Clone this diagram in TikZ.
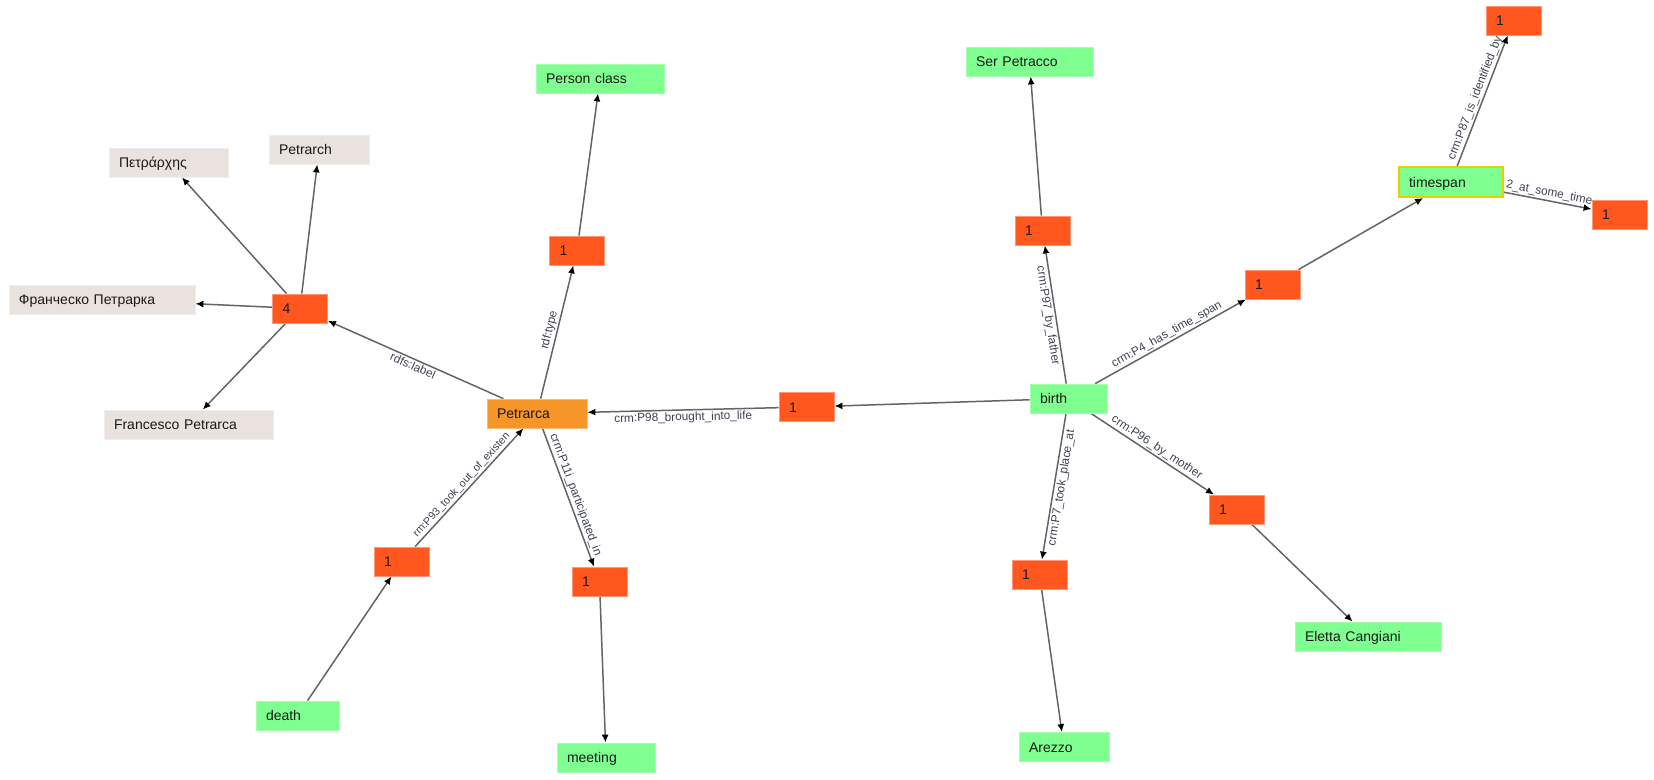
\documentclass[tikz,border=0pt]{standalone}
\usepackage{fontspec}
\setmainfont{Liberation Sans}
\usetikzlibrary{arrows.meta}
\pgfdeclarelayer{bg}
\pgfsetlayers{bg,main}
\definecolor{ored}{RGB}{255,87,30}
\definecolor{oredb}{RGB}{255,150,120}
\definecolor{grn}{RGB}{128,255,145}
\definecolor{grnb}{RGB}{165,255,175}
\definecolor{beige}{RGB}{234,226,223}
\definecolor{beigeb}{RGB}{242,236,234}
\definecolor{porange}{RGB}{247,150,40}
\definecolor{porangeb}{RGB}{250,185,120}
\definecolor{ybord}{RGB}{235,205,0}
\definecolor{edgegray}{RGB}{100,100,100}
\definecolor{lblcol}{RGB}{60,66,82}
\begin{document}
\begin{tikzpicture}[x=1pt,y=-1pt,
  box/.style={rectangle, minimum height=29pt, inner xsep=10pt, inner ysep=0pt,
    align=left, text height=10pt, text depth=0pt,
    font=\fontsize{14}{16}\selectfont, text={rgb,255:red,25;green,25;blue,25}},
  num/.style={box, fill=ored, draw=oredb, line width=0.8pt, text width=35pt},
  grnode/.style={box, fill=grn, draw=grnb, line width=0.8pt, text width=#1},
  lit/.style={box, fill=beige, draw=beigeb, line width=0.8pt, text width=#1},
  edge/.style={draw=edgegray, line width=1.5pt, -{Latex[length=8pt,width=7pt,color=black]}},
  lbl/.style={font=\fontsize{11.8}{14}\selectfont, text=lblcol, inner sep=1.5pt}
]
\useasboundingbox (0,0) rectangle (1654,779);

% left label cluster
\node[lit=99pt]  (pi)       at (168.5,162.5) {Πετράρχης};
\node[lit=80pt]  (petrarch) at (319,149.5)   {Petrarch};
\node[lit=166pt] (fr)       at (102,299.5)   {Франческо Петрарка};
\node[num]       (four)     at (300,308.5)   {4};
\node[lit=149pt] (fp)       at (188.5,424.5) {Francesco Petrarca};

% Petrarca cluster
\node[box, fill=porange, draw=porangeb, line width=0.8pt, text width=80pt] (petrarca) at (537,413.5) {Petrarca};
\node[grnode=108pt] (person) at (600,78.5) {Person class};
\node[num] (otype) at (577,250.5) {1};
\node[num] (o98)   at (806.5,407) {1};
\node[num] (o93)   at (401.5,561.5) {1};
\node[num] (o11)   at (599.5,581.5) {1};
\node[grnode=63pt] (death)   at (297.5,715.5) {death};
\node[grnode=78pt] (meeting) at (606,757.5)   {meeting};

% birth cluster
\node[grnode=57pt]  (birth) at (1068.5,398.5) {birth};
\node[num] (o97) at (1042.5,230.5) {1};
\node[grnode=107pt] (serp) at (1029.5,61.5) {Ser Petracco};
\node[num] (o4) at (1272.5,284.5) {1};
\node[box, fill=grn, draw=ybord, line width=2pt, text width=84pt, minimum height=30pt] (timespan) at (1451,182) {timespan};
\node[num] (otop)   at (1513.5,20.5)  {1};
\node[num] (oright) at (1619.5,214.5) {1};
\node[num] (o96) at (1236.5,509.5) {1};
\node[grnode=126pt] (eletta) at (1368,636.5) {Eletta Cangiani};
\node[num] (o7) at (1039.5,574.5) {1};
\node[grnode=70pt] (arezzo) at (1064,747) {Arezzo};

\begin{pgfonlayer}{bg}
\draw[edge] (four) -- (pi);
\draw[edge] (four) -- (petrarch);
\draw[edge] (four) -- (fr);
\draw[edge] (four) -- (fp);

\draw[edge] (petrarca) -- node[lbl, sloped, below] {rdfs:label} (four);
\draw[edge] (petrarca) -- node[lbl, sloped, above] {rdf:type} (otype);
\draw[edge] (otype) -- (person);
\draw[edge] (o98) -- node[lbl, sloped, below] {crm:P98\_brought\_into\_life} (petrarca);
\draw[edge] (o93) -- node[lbl, sloped, above, font=\fontsize{10.8}{13}\selectfont, pos=0.48] {rm:P93\_took\_out\_of\_existen} (petrarca);
\draw[edge] (death) -- (o93);
\draw[edge] (petrarca) -- node[lbl, sloped, above] {crm:P11i\_participated\_in} (o11);
\draw[edge] (o11) -- (meeting);

\draw[edge] (birth) -- (o98);
\draw[edge] (birth) -- node[lbl, sloped, below] {crm:P97\_by\_father} (o97);
\draw[edge] (o97) -- (serp);
\draw[edge] (birth) -- node[lbl, sloped, above] {crm:P4\_has\_time\_span} (o4);
\draw[edge] (o4) -- (timespan);
\draw[edge] (timespan) -- node[lbl, sloped, above] {crm:P87\_is\_identified\_by} (otop);
\draw[edge] (timespan) -- node[lbl, sloped, above] {2\_at\_some\_time} (oright);
\draw[edge] (birth) -- node[lbl, sloped, above] {crm:P96\_by\_mother} (o96);
\draw[edge] (o96) -- (eletta);
\draw[edge] (birth) -- node[lbl, sloped, below] {crm:P7\_took\_place\_at} (o7);
\draw[edge] (o7) -- (arezzo);
\end{pgfonlayer}
\end{tikzpicture}
\end{document}
